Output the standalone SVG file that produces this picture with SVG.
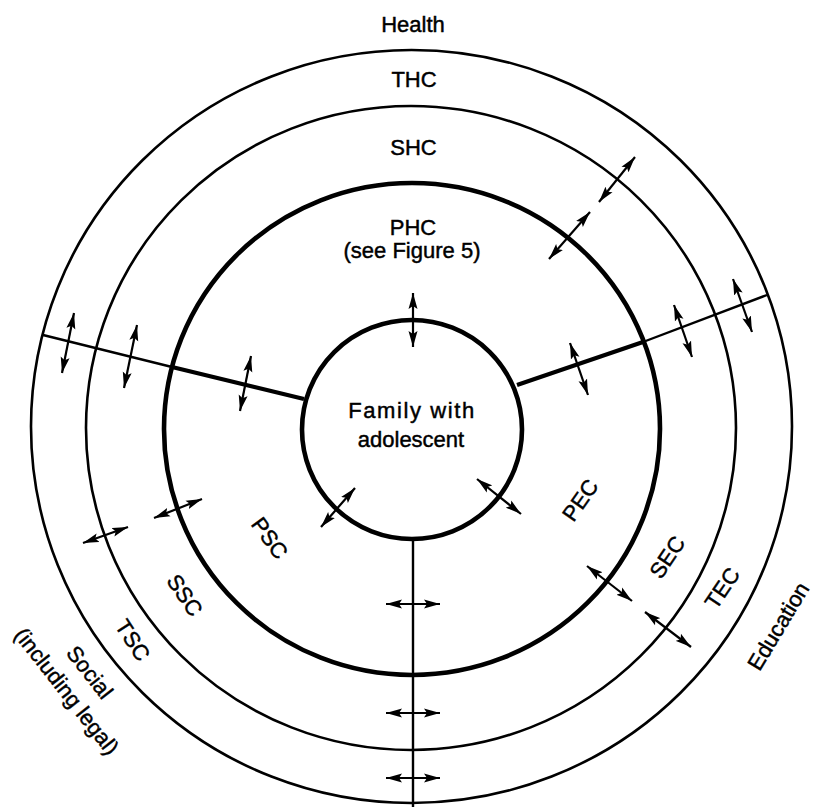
<svg xmlns="http://www.w3.org/2000/svg" width="814" height="807" viewBox="0 0 814 807">
<defs>
<marker id="ah" markerUnits="userSpaceOnUse" viewBox="0 0 16 10" refX="16" refY="5" markerWidth="16" markerHeight="10" orient="auto-start-reverse">
<path d="M0,0.5 L16,5 L0,9.5 L3,5 z" fill="#000"/>
</marker>
<style>
.ring{fill:none;stroke:#000;stroke-width:2.6}
.thick{fill:none;stroke:#000;stroke-width:4.6}
.spoke{stroke:#000;stroke-width:2.4;fill:none}
.spokeT{stroke:#000;stroke-width:4.2;fill:none}
.arr{stroke:#000;stroke-width:2.2;fill:none;marker-start:url(#ah);marker-end:url(#ah)}
text{font-family:"Liberation Sans",Arial,sans-serif;font-size:22px;fill:#000;stroke:#000;stroke-width:0.45;text-anchor:middle}
</style>
</defs>
<rect width="814" height="807" fill="#fff"/>
<g id="ring-tertiary-outer"><ellipse class="ring" cx="411.5" cy="426.5" rx="380.5" ry="376.5"/></g>
<g id="ring-secondary"><ellipse class="ring" cx="411" cy="428" rx="325" ry="322"/></g>
<g id="ring-primary"><ellipse class="thick" cx="412" cy="429" rx="248" ry="246"/></g>
<g id="family"><ellipse class="thick" cx="412" cy="429.5" rx="110" ry="109.5"/>
<text x="412" y="418" letter-spacing="1.6">Family with</text>
<text x="411" y="447">adolescent</text></g>
<g id="dividers">
<line class="spokeT" x1="304" y1="399" x2="172" y2="367"/>
<line class="spoke" x1="172" y1="367" x2="43" y2="335"/>
<line class="spokeT" x1="517" y1="385" x2="643" y2="342"/>
<line class="spoke" x1="643" y1="342" x2="767" y2="295"/>
<line class="spoke" x1="413" y1="539" x2="413" y2="807"/>
</g>
<g id="labels">
<text x="413" y="32">Health</text>
<text x="414" y="87">THC</text>
<text x="413.5" y="155">SHC</text>
<text x="413" y="235">PHC</text>
<text x="412" y="258">(see Figure 5)</text>
<text transform="translate(270,538) rotate(54)" dy="0.36em">PSC</text>
<text transform="translate(185,595) rotate(56)" dy="0.36em">SSC</text>
<text transform="translate(133,640) rotate(57)" dy="0.36em">TSC</text>
<text transform="translate(90,672) rotate(52)" dy="0.36em">Social</text>
<text transform="translate(67,691) rotate(52)" dy="0.36em">(including legal)</text>
<text transform="translate(580,500) rotate(-55)" dy="0.36em">PEC</text>
<text transform="translate(667,557) rotate(-56)" dy="0.36em">SEC</text>
<text transform="translate(722,588) rotate(-56)" dy="0.36em">TEC</text>
<text transform="translate(778,626) rotate(-59)" dy="0.36em">Education</text>
</g>
<g id="connectors">
<line class="arr" x1="413" y1="293" x2="413" y2="347"/>
<line class="arr" x1="74" y1="313" x2="62" y2="373"/>
<line class="arr" x1="137" y1="325" x2="124" y2="388"/>
<line class="arr" x1="251" y1="356" x2="240" y2="411"/>
<line class="arr" x1="570" y1="343" x2="588" y2="395"/>
<line class="arr" x1="674" y1="305" x2="692" y2="357"/>
<line class="arr" x1="733" y1="279" x2="752" y2="332"/>
<line class="arr" x1="549" y1="259" x2="590" y2="212"/>
<line class="arr" x1="599" y1="202" x2="635" y2="157"/>
<line class="arr" x1="477" y1="479" x2="521" y2="514"/>
<line class="arr" x1="355" y1="488" x2="321" y2="527"/>
<line class="arr" x1="202" y1="499" x2="154" y2="518"/>
<line class="arr" x1="128" y1="527" x2="83" y2="543"/>
<line class="arr" x1="386" y1="604" x2="440" y2="604"/>
<line class="arr" x1="386" y1="713" x2="440" y2="713"/>
<line class="arr" x1="386" y1="778" x2="440" y2="778"/>
<line class="arr" x1="587" y1="566" x2="632" y2="601"/>
<line class="arr" x1="645" y1="612" x2="691" y2="647"/>
</g>
</svg>
